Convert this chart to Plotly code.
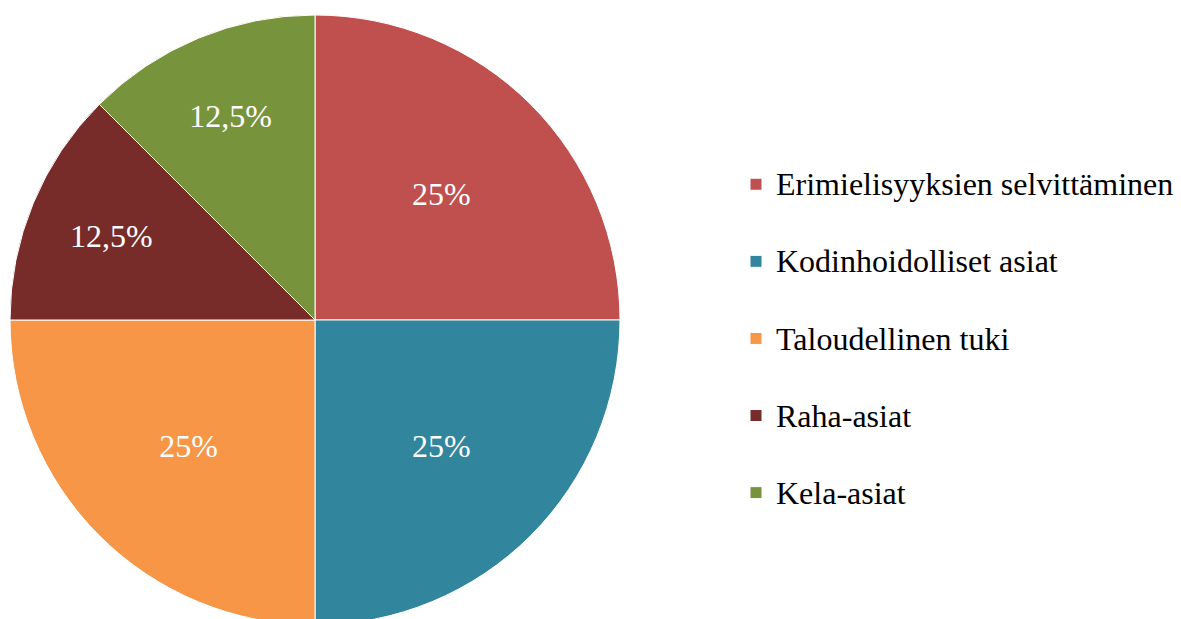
import plotly.graph_objects as go

categories = [
    "Erimielisyyksien selvittäminen",
    "Kodinhoidolliset asiat",
    "Taloudellinen tuki",
    "Raha-asiat",
    "Kela-asiat",
]
values = [25, 25, 25, 12.5, 12.5]
colors = ["#C0504D", "#31859C", "#F79646", "#772C2A", "#77933C"]

pct_text = [f"{v:g}%".replace(".", ",") for v in values]
# legend entries: 32px text, extra blank line for the wide item spacing
legend_labels = [f"<span style='font-size:32px'>{c}</span><br> " for c in categories]

W, H = 1181, 619
label_font = dict(family="Liberation Serif, Times New Roman, serif", size=32, color="white")

fig = go.Figure(
    go.Pie(
        labels=legend_labels,
        values=values,
        text=pct_text,
        texttemplate="%{text}",
        textposition="inside",
        insidetextorientation="horizontal",
        sort=False,
        direction="clockwise",
        rotation=0,
        marker=dict(colors=colors, line=dict(color="white", width=1)),
        textfont=label_font,
        insidetextfont=label_font,
        hoverinfo="skip",
        domain=dict(x=[2 / W, 612 / W], y=[0, 1]),
    )
)

fig.update_layout(
    width=W,
    height=H,
    margin=dict(l=0, r=0, t=7, b=2),
    paper_bgcolor="white",
    plot_bgcolor="white",
    font=dict(family="Liberation Serif, Times New Roman, serif"),
    showlegend=True,
    legend=dict(
        x=728 / W,
        xanchor="left",
        y=0.439,
        yanchor="middle",
        valign="top",
        font=dict(family="Liberation Serif, Times New Roman, serif", size=28.5, color="black"),
        itemwidth=30,
    ),
)

fig.write_html("out.html")
